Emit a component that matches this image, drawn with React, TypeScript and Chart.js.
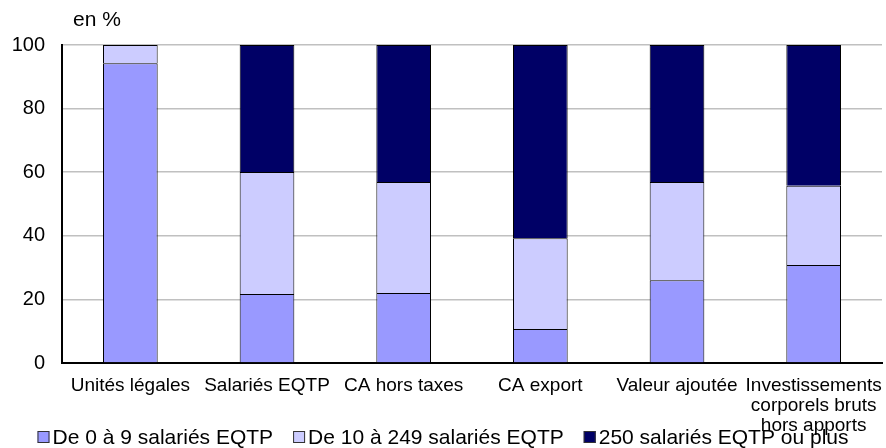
import React, { useEffect, useRef } from "react";
import { Chart, registerables } from "chart.js";

Chart.register(...registerables);

const categories: (string | string[])[] = [
  "Unités légales",
  "Salariés EQTP",
  "CA hors taxes",
  "CA export",
  "Valeur ajoutée",
  ["Investissements", "corporels bruts", "hors apports"],
];
const seriesNames = [
  "De 0 à 9 salariés EQTP",
  "De 10 à 249 salariés EQTP",
  "250 salariés EQTP ou plus",
];
const seriesColors = ["#9999FF", "#CCCCFF", "#000066"];
const small = [94.3, 21.7, 22.0, 10.7, 26.0, 30.8];
const medium = [5.7, 38.4, 34.9, 28.5, 30.9, 24.9];
const large = [0, 39.9, 43.1, 60.8, 43.1, 44.3];
const yTicks = [0, 20, 40, 60, 80, 100];
const unitLabel = "en %";

const FONT = "'Liberation Sans', Arial, sans-serif";

export default function App() {
  const ref = useRef<HTMLCanvasElement | null>(null);
  useEffect(() => {
    document.body.style.margin = "0";
    if (!ref.current) return;
    const extrasPlugin = {
      id: "extras",
      afterDraw(chart: any) {
        const { ctx, chartArea, width } = chart;
        ctx.save();
        // unit label
        ctx.font = `21px ${FONT}`;
        ctx.fillStyle = "#000";
        ctx.textBaseline = "middle";
        ctx.textAlign = "left";
        ctx.fillText(unitLabel, chartArea.left + 11, chartArea.top - 25);
        // legend
        ctx.font = `21px ${FONT}`;
        const box = 12;
        const gap = 3;
        const itemGap = 20;
        const widths = chart.data.datasets.map(
          (d: any) => box + gap + ctx.measureText(d.label).width
        );
        const total =
          widths.reduce((a: number, b: number) => a + b, 0) +
          itemGap * (widths.length - 1);
        let x = (width - total) / 2;
        const y = chart.height - 11;
        chart.data.datasets.forEach((d: any, i: number) => {
          ctx.fillStyle = d.backgroundColor;
          ctx.fillRect(x, y - box / 2, box, box);
          ctx.strokeStyle = "#333";
          ctx.lineWidth = 1;
          ctx.strokeRect(x + 0.5, y - box / 2 + 0.5, box - 1, box - 1);
          ctx.fillStyle = "#000";
          ctx.fillText(d.label, x + box + gap, y + 1);
          x += widths[i] + itemGap;
        });
        ctx.restore();
      },
    };
    const chart = new Chart(ref.current, {
      type: "bar",
      data: {
        labels: categories as any,
        datasets: [small, medium, large].map((data, i) => ({
          label: seriesNames[i],
          data,
          backgroundColor: seriesColors[i],
          borderColor: "#000000",
          borderWidth: 1,
          barPercentage: 0.4,
          categoryPercentage: 1,
        })),
      },
      options: {
        animation: false,
        responsive: true,
        maintainAspectRatio: false,
        layout: { padding: { top: 45, right: 4, left: 0, bottom: 0 } },
        plugins: {
          tooltip: { enabled: false },
          legend: { display: false },
        },
        scales: {
          x: {
            stacked: true,
            afterFit: (s: any) => {
              s.height = 85;
              s.paddingRight = 0;
              s.paddingLeft = 0;
            },
            grid: { display: false },
            border: { display: true, color: "#000", width: 2 },
            ticks: {
              font: { family: FONT, size: 19, lineHeight: 1.05 },
              color: "#000",
              padding: 5,
              maxRotation: 0,
              autoSkip: false,
            },
          },
          y: {
            stacked: true,
            min: 0,
            max: 100,
            afterFit: (s: any) => {
              s.width = 62;
            },
            afterBuildTicks: (s: any) => {
              s.ticks = yTicks.map((v) => ({ value: v }));
            },
            grid: { color: "#C0C0C0", lineWidth: 1.5, drawTicks: false },
            border: { display: true, color: "#000", width: 2 },
            ticks: {
              font: { family: FONT, size: 20 },
              color: "#000",
              padding: 17,
            },
          },
        },
      },
      plugins: [extrasPlugin],
    });
    return () => chart.destroy();
  }, []);
  return (
    <div style={{ width: 886, height: 448, position: "relative" }}>
      <canvas ref={ref} />
    </div>
  );
}
